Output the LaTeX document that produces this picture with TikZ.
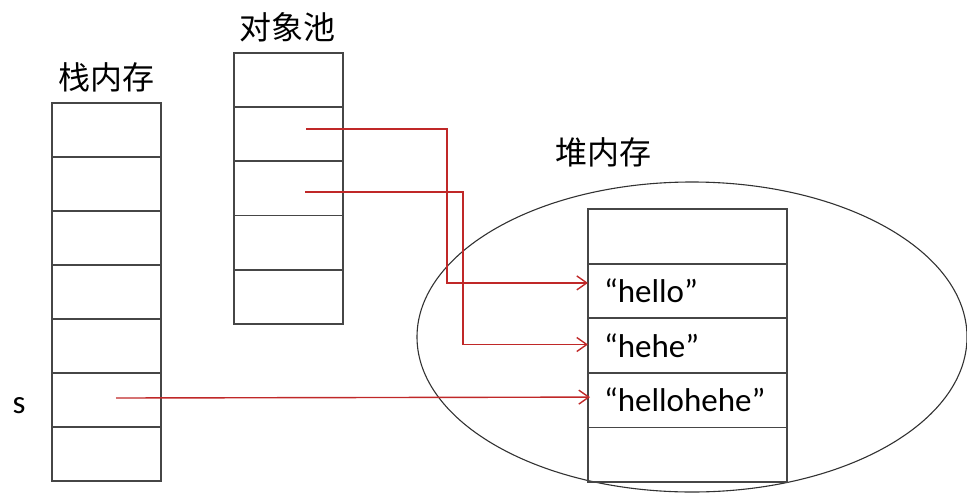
\documentclass[tikz,border=0pt]{standalone}
\usepackage{fontspec}
\setmainfont{Carlito}
\newfontfamily\cjk{Noto Sans CJK SC}
\usetikzlibrary{positioning,shapes.geometric,arrows.meta}
\definecolor{refred}{RGB}{192,40,40}
\definecolor{cellgray}{RGB}{70,70,70}
\definecolor{rimgray}{RGB}{50,50,50}
\tikzset{
    % memory cells
    stackcell/.style={
        rectangle, draw=cellgray, line width=1.8pt, outer sep=0pt,
        minimum width=109pt, minimum height=54pt
    },
    poolcell/.style={
        rectangle, draw=cellgray, line width=1.8pt, outer sep=0pt,
        minimum width=109pt, minimum height=54.2pt
    },
    heapcell/.style={
        rectangle, draw=cellgray, line width=1.8pt, outer sep=0pt,
        text width=167pt, inner xsep=16pt, align=left,
        minimum height=54.6pt, font=\fontsize{33}{40}\selectfont
    },
    heaparea/.style={
        ellipse, draw=rimgray, line width=1.1pt,
        minimum width=550pt, minimum height=310pt, inner sep=0pt
    },
    % labels
    areatitle/.style={
        font=\cjk\fontsize{32}{38}\selectfont, inner sep=0pt
    },
    varname/.style={
        font=\fontsize{33}{40}\selectfont, inner sep=0pt
    },
    ptr/.style={
        -{Straight Barb[length=10pt, width=14pt]}, line width=1.4pt, color=refred
    }
}
\begin{document}
\begin{tikzpicture}[x=1pt, y=-1pt]
\useasboundingbox (0,0) rectangle (967,493);

% stack memory
\node[stackcell] (stack1) at (106.5,130) {};
\node[stackcell, below=0pt of stack1] (stack2) {};
\node[stackcell, below=0pt of stack2] (stack3) {};
\node[stackcell, below=0pt of stack3] (stack4) {};
\node[stackcell, below=0pt of stack4] (stack5) {};
\node[stackcell, below=0pt of stack5] (stack6) {};
\node[stackcell, below=0pt of stack6] (stack7) {};

% object pool
\node[poolcell] (pool1) at (288.5,80) {};
\node[poolcell, below=0pt of pool1] (pool2) {};
\node[poolcell, below=0pt of pool2] (pool3) {};
\node[poolcell, below=0pt of pool3] (pool4) {};
\node[poolcell, below=0pt of pool4] (pool5) {};

% heap memory
\node[heaparea] (heaparea) at (692,337) {};
\node[heapcell] (heap1) at (687.5,236.3) {};
\node[heapcell, below=0pt of heap1] (heap2) {“hello”};
\node[heapcell, below=0pt of heap2] (heap3) {“hehe”};
\node[heapcell, below=0pt of heap3] (heap4) {“hellohehe”};
\node[heapcell, below=0pt of heap4] (heap5) {};

% titles
\node[areatitle] (stacktitle) at (106,77) {栈内存};
\node[areatitle] (pooltitle) at (287,27) {对象池};
\node[areatitle] (heaptitle) at (603,152) {堆内存};
\node[varname] (svar) at (19,406) {s};

% references
\coordinate (ref1) at (306,129);
\coordinate (ref2) at (305,192);
\coordinate (ref3) at (116,398);
\draw[ptr] (ref1) -- ++(141,0) |- ([yshift=8pt]heap2.west);
\draw[ptr] (ref2) -- ++(158,0) |- ([yshift=1pt]heap3.west);
\draw[ptr] (ref3) -- ([xshift=2pt, yshift=3pt]heap4.west);

\end{tikzpicture}
\end{document}
